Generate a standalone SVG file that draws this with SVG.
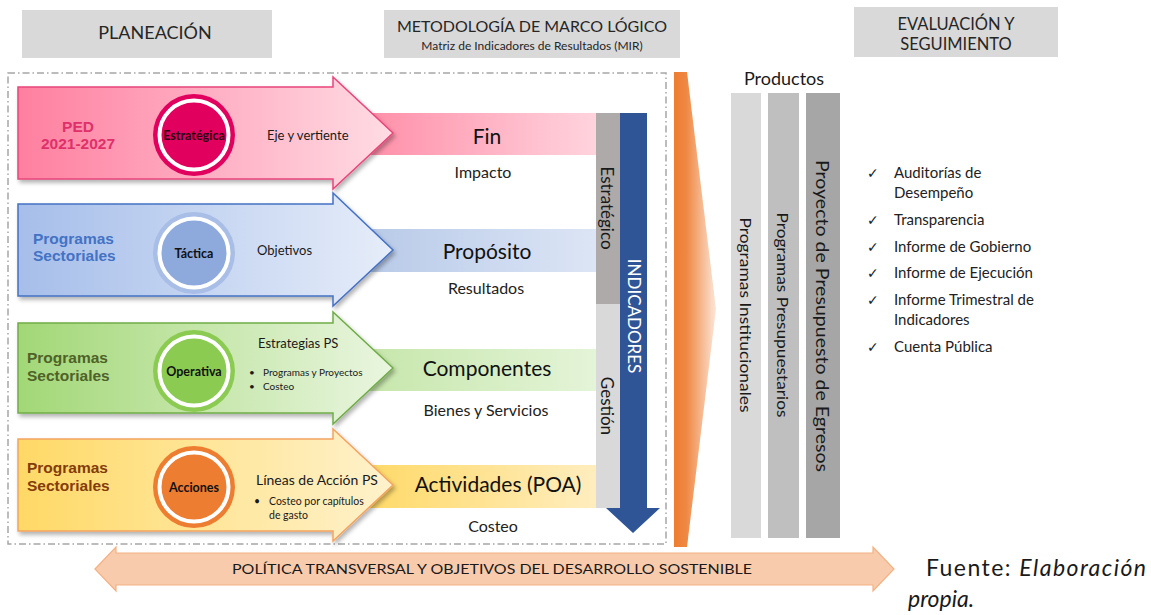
<svg xmlns="http://www.w3.org/2000/svg" width="1151" height="615" viewBox="0 0 1151 615">
<style>
  text { font-family: Lato, "Open Sans", "Liberation Sans", sans-serif; fill: #1a1a1a; }
  .hdr { fill: #D9D9D9; }
  .hdrT { fill: #262626; text-anchor: middle; }
  .bold { font-family: "Liberation Sans", Arial, sans-serif; font-weight: bold; font-size: 15.5px; }
  .circT { font-weight: bold; font-size: 12.5px; text-anchor: middle; fill: #111; }
  .mid { text-anchor: middle; }
  .band { font-size: 21px; text-anchor: middle; fill: #111; }
  .sub { font-size: 16px; text-anchor: middle; fill: #222; }
  .lst { font-size: 15px; fill: #222; }
  .chk { font-family: "DejaVu Sans", sans-serif; font-size: 14px; fill: #222; }
</style>
<defs>
  <filter id="sh" x="-5%" y="-10%" width="115%" height="130%">
    <feDropShadow dx="2" dy="3" stdDeviation="2" flood-color="#000" flood-opacity="0.3"/>
  </filter>
  <linearGradient id="gPink" x1="0" x2="1" y1="0" y2="0">
    <stop offset="0" stop-color="#FF7FA0"/><stop offset="1" stop-color="#FFDCE4"/>
  </linearGradient>
  <linearGradient id="gBlue" x1="0" x2="1" y1="0" y2="0">
    <stop offset="0" stop-color="#A6BEEA"/><stop offset="1" stop-color="#E6EDF9"/>
  </linearGradient>
  <linearGradient id="gGreen" x1="0" x2="1" y1="0" y2="0">
    <stop offset="0" stop-color="#A2D776"/><stop offset="1" stop-color="#EAF6E0"/>
  </linearGradient>
  <linearGradient id="gYellow" x1="0" x2="1" y1="0" y2="0">
    <stop offset="0" stop-color="#FFD966"/><stop offset="1" stop-color="#FFF2CC"/>
  </linearGradient>
  <linearGradient id="bPink" x1="0" x2="1" y1="0" y2="0">
    <stop offset="0" stop-color="#FF87A3"/><stop offset="1" stop-color="#FFD3DD"/>
  </linearGradient>
  <linearGradient id="bBlue" x1="0" x2="1" y1="0" y2="0">
    <stop offset="0" stop-color="#B4C7E7"/><stop offset="1" stop-color="#DCE5F5"/>
  </linearGradient>
  <linearGradient id="bGreen" x1="0" x2="1" y1="0" y2="0">
    <stop offset="0" stop-color="#C3E5A6"/><stop offset="1" stop-color="#E4F4D8"/>
  </linearGradient>
  <linearGradient id="bYellow" x1="0" x2="1" y1="0" y2="0">
    <stop offset="0" stop-color="#FFD75E"/><stop offset="1" stop-color="#FFEDBE"/>
  </linearGradient>
  <linearGradient id="gOrange" gradientUnits="userSpaceOnUse" x1="674" x2="716" y1="0" y2="0">
    <stop offset="0" stop-color="#ED7D31"/><stop offset="0.3" stop-color="#EF8844"/><stop offset="1" stop-color="#FCE6D8"/>
  </linearGradient>
</defs>

<!-- headers -->
<g id="hdr-planeacion">
  <rect class="hdr" x="22" y="10" width="250" height="48"/>
  <text class="hdrT" x="155" y="39" font-size="18">PLANEACIÓN</text>
</g>
<g id="hdr-mir">
  <rect class="hdr" x="384" y="10" width="296" height="48"/>
  <text class="hdrT" x="532" y="32" font-size="16" textLength="270" lengthAdjust="spacingAndGlyphs">METODOLOGÍA DE MARCO LÓGICO</text>
  <text class="hdrT" x="532" y="50" font-size="12">Matriz de Indicadores de Resultados (MIR)</text>
</g>
<g id="hdr-evaluacion">
  <rect class="hdr" x="854" y="7" width="204" height="50"/>
  <text class="hdrT" x="956" y="30" font-size="16.5">EVALUACIÓN Y</text>
  <text class="hdrT" x="956" y="50" font-size="16.5">SEGUIMIENTO</text>
</g>

<!-- dash-dot frame -->
<rect id="frame" x="8" y="73" width="658" height="471" fill="none" stroke="#A6A6A6" stroke-width="1.5" stroke-dasharray="7 3 1.5 3"/>

<!-- bands -->
<g id="band-fin">
  <rect x="340" y="113" width="256" height="42" fill="url(#bPink)"/>
  <text class="band" x="487" y="144">Fin</text>
  <text class="sub" x="483" y="178">Impacto</text>
</g>
<g id="band-proposito">
  <rect x="340" y="229" width="256" height="43" fill="url(#bBlue)"/>
  <text class="band" x="487" y="259">Propósito</text>
  <text class="sub" x="486" y="294">Resultados</text>
</g>
<g id="band-componentes">
  <rect x="340" y="349" width="256" height="42" fill="url(#bGreen)"/>
  <text class="band" x="487" y="376">Componentes</text>
  <text class="sub" x="486" y="416">Bienes y Servicios</text>
</g>
<g id="band-actividades">
  <rect x="340" y="465" width="256" height="43" fill="url(#bYellow)"/>
  <text class="band" x="498" y="492">Actividades (POA)</text>
  <text class="sub" x="493" y="532">Costeo</text>
</g>

<!-- indicator column -->
<g id="indicadores">
  <rect x="596" y="113" width="24" height="191" fill="#AEAAAA"/>
  <rect x="596" y="304" width="24" height="204" fill="#D9D9D9"/>
  <text x="607" y="208" font-size="17" text-anchor="middle" dominant-baseline="central" transform="rotate(90 607 208)" fill="#222">Estratégico</text>
  <text x="607" y="406" font-size="17" text-anchor="middle" dominant-baseline="central" transform="rotate(90 607 406)" fill="#222">Gestión</text>
  <path d="M620,113 H647 V508 H660 L633,533 L606,508 H620 Z" fill="#2F5597"/>
  <text x="634" y="316" font-size="17" text-anchor="middle" dominant-baseline="central" transform="rotate(90 634 316)" style="fill:#fff">INDICADORES</text>
</g>

<!-- arrows -->
<g id="arrow-ped">
  <path d="M18,87 H333 V77 L393,133 L333,189 V179 H18 Z" fill="url(#gPink)" stroke="#E8467C" stroke-width="1.5" filter="url(#sh)"/>
  <text class="bold mid" x="78" y="132" style="fill:#E0306A">PED</text>
  <text class="bold mid" x="78" y="149" style="fill:#E0306A">2021-2027</text>
  <circle cx="194" cy="135" r="41" fill="#E2005E"/>
  <circle cx="194" cy="135" r="34.5" fill="#E2005E" stroke="#fff" stroke-width="4"/>
  <text class="circT" x="194" y="140" style="fill:#2a0012">Estratégica</text>
  <text x="267" y="140" font-size="13">Eje y vertiente</text>
</g>
<g id="arrow-tactica">
  <path d="M18,204 H333 V193 L393,250 L333,306 V296 H18 Z" fill="url(#gBlue)" stroke="#4472C4" stroke-width="1.5" filter="url(#sh)"/>
  <text class="bold" x="33" y="244" style="fill:#4472C4">Programas</text>
  <text class="bold" x="33" y="261" style="fill:#4472C4">Sectoriales</text>
  <circle cx="194" cy="253" r="41" fill="#A9BEE6"/>
  <circle cx="194" cy="253" r="34.5" fill="#8EA9DB" stroke="#fff" stroke-width="4"/>
  <text class="circT" x="194" y="258">Táctica</text>
  <text x="257" y="255" font-size="13">Objetivos</text>
</g>
<g id="arrow-operativa">
  <path d="M18,323 H333 V312 L393,368 L333,424 V413 H18 Z" fill="url(#gGreen)" stroke="#70AD47" stroke-width="1.5" filter="url(#sh)"/>
  <text class="bold" x="27" y="363" style="fill:#4F6228">Programas</text>
  <text class="bold" x="27" y="381" style="fill:#4F6228">Sectoriales</text>
  <circle cx="194" cy="371" r="41" fill="#8CCB52"/>
  <circle cx="194" cy="371" r="34.5" fill="#8CCB52" stroke="#fff" stroke-width="4"/>
  <text class="circT" x="194" y="376">Operativa</text>
  <text x="258" y="348" font-size="13">Estrategias PS</text>
  <text x="249" y="376" font-size="10">•</text>
  <text x="263" y="376" font-size="10">Programas y Proyectos</text>
  <text x="249" y="390" font-size="10">•</text>
  <text x="263" y="390" font-size="10">Costeo</text>
</g>
<g id="arrow-acciones">
  <path d="M18,439 H333 V429 L393,485 L333,541 V531 H18 Z" fill="url(#gYellow)" stroke="#F4A460" stroke-width="1.5" filter="url(#sh)"/>
  <text class="bold" x="27" y="473" style="fill:#843C0C">Programas</text>
  <text class="bold" x="27" y="491" style="fill:#843C0C">Sectoriales</text>
  <circle cx="194" cy="487" r="41" fill="#ED7D31"/>
  <circle cx="194" cy="487" r="34.5" fill="#ED7D31" stroke="#fff" stroke-width="4"/>
  <text class="circT" x="194" y="492">Acciones</text>
  <text x="256" y="485" font-size="14">Líneas de Acción PS</text>
  <text x="254" y="505" font-size="10.5">•</text>
  <text x="269" y="505" font-size="10.5">Costeo por capítulos</text>
  <text x="269" y="519" font-size="10.5">de gasto</text>
</g>

<!-- orange taper -->
<path id="taper" d="M674,72 H687 L716,309 L687,547 H674 Z" fill="url(#gOrange)"/>

<!-- products -->
<g id="productos">
  <text x="784" y="85" font-size="18" text-anchor="middle" fill="#111">Productos</text>
  <rect x="731" y="93" width="30" height="445" fill="#D9D9D9"/>
  <rect x="768" y="93" width="31" height="445" fill="#BFBFBF"/>
  <rect x="806" y="93" width="34" height="445" fill="#A6A6A6"/>
  <text x="746" y="315" font-size="15" text-anchor="middle" dominant-baseline="central" transform="rotate(90 746 315)" textLength="195" lengthAdjust="spacingAndGlyphs">Programas Institucionales</text>
  <text x="783" y="315" font-size="15" text-anchor="middle" dominant-baseline="central" transform="rotate(90 783 315)" textLength="205" lengthAdjust="spacingAndGlyphs">Programas Presupuestarios</text>
  <text x="823" y="316" font-size="18" text-anchor="middle" dominant-baseline="central" transform="rotate(90 823 316)" textLength="312" lengthAdjust="spacingAndGlyphs">Proyecto de Presupuesto de Egresos</text>
</g>

<!-- evaluation list -->
<g id="lista">
  <text class="chk" x="867" y="178">✓</text>
  <text class="lst" x="894" y="178">Auditorías de</text>
  <text class="lst" x="894" y="198">Desempeño</text>
  <text class="chk" x="867" y="225">✓</text>
  <text class="lst" x="894" y="225">Transparencia</text>
  <text class="chk" x="867" y="252">✓</text>
  <text class="lst" x="894" y="252">Informe de Gobierno</text>
  <text class="chk" x="867" y="278">✓</text>
  <text class="lst" x="894" y="278">Informe de Ejecución</text>
  <text class="chk" x="867" y="305">✓</text>
  <text class="lst" x="894" y="305">Informe Trimestral de</text>
  <text class="lst" x="894" y="325">Indicadores</text>
  <text class="chk" x="867" y="352">✓</text>
  <text class="lst" x="894" y="352">Cuenta Pública</text>
</g>

<!-- bottom double arrow -->
<g id="politica">
  <path d="M95,569 L116,547 V553 H873 V547 L894,569 L873,591 V585 H116 V591 Z" fill="#F8CBAD" stroke="#F4B183" stroke-width="1.2"/>
  <text x="492" y="574" font-size="14" text-anchor="middle" fill="#222" textLength="520" lengthAdjust="spacingAndGlyphs">POLÍTICA TRANSVERSAL Y OBJETIVOS DEL  DESARROLLO SOSTENIBLE</text>
</g>

<g id="fuente">
  <text x="926" y="576" font-size="23" fill="#111" textLength="220" lengthAdjust="spacing">Fuente: <tspan font-style="italic">Elaboración</tspan></text>
  <text x="908" y="607" font-size="23" font-style="italic" fill="#111">propia.</text>
</g>
</svg>
